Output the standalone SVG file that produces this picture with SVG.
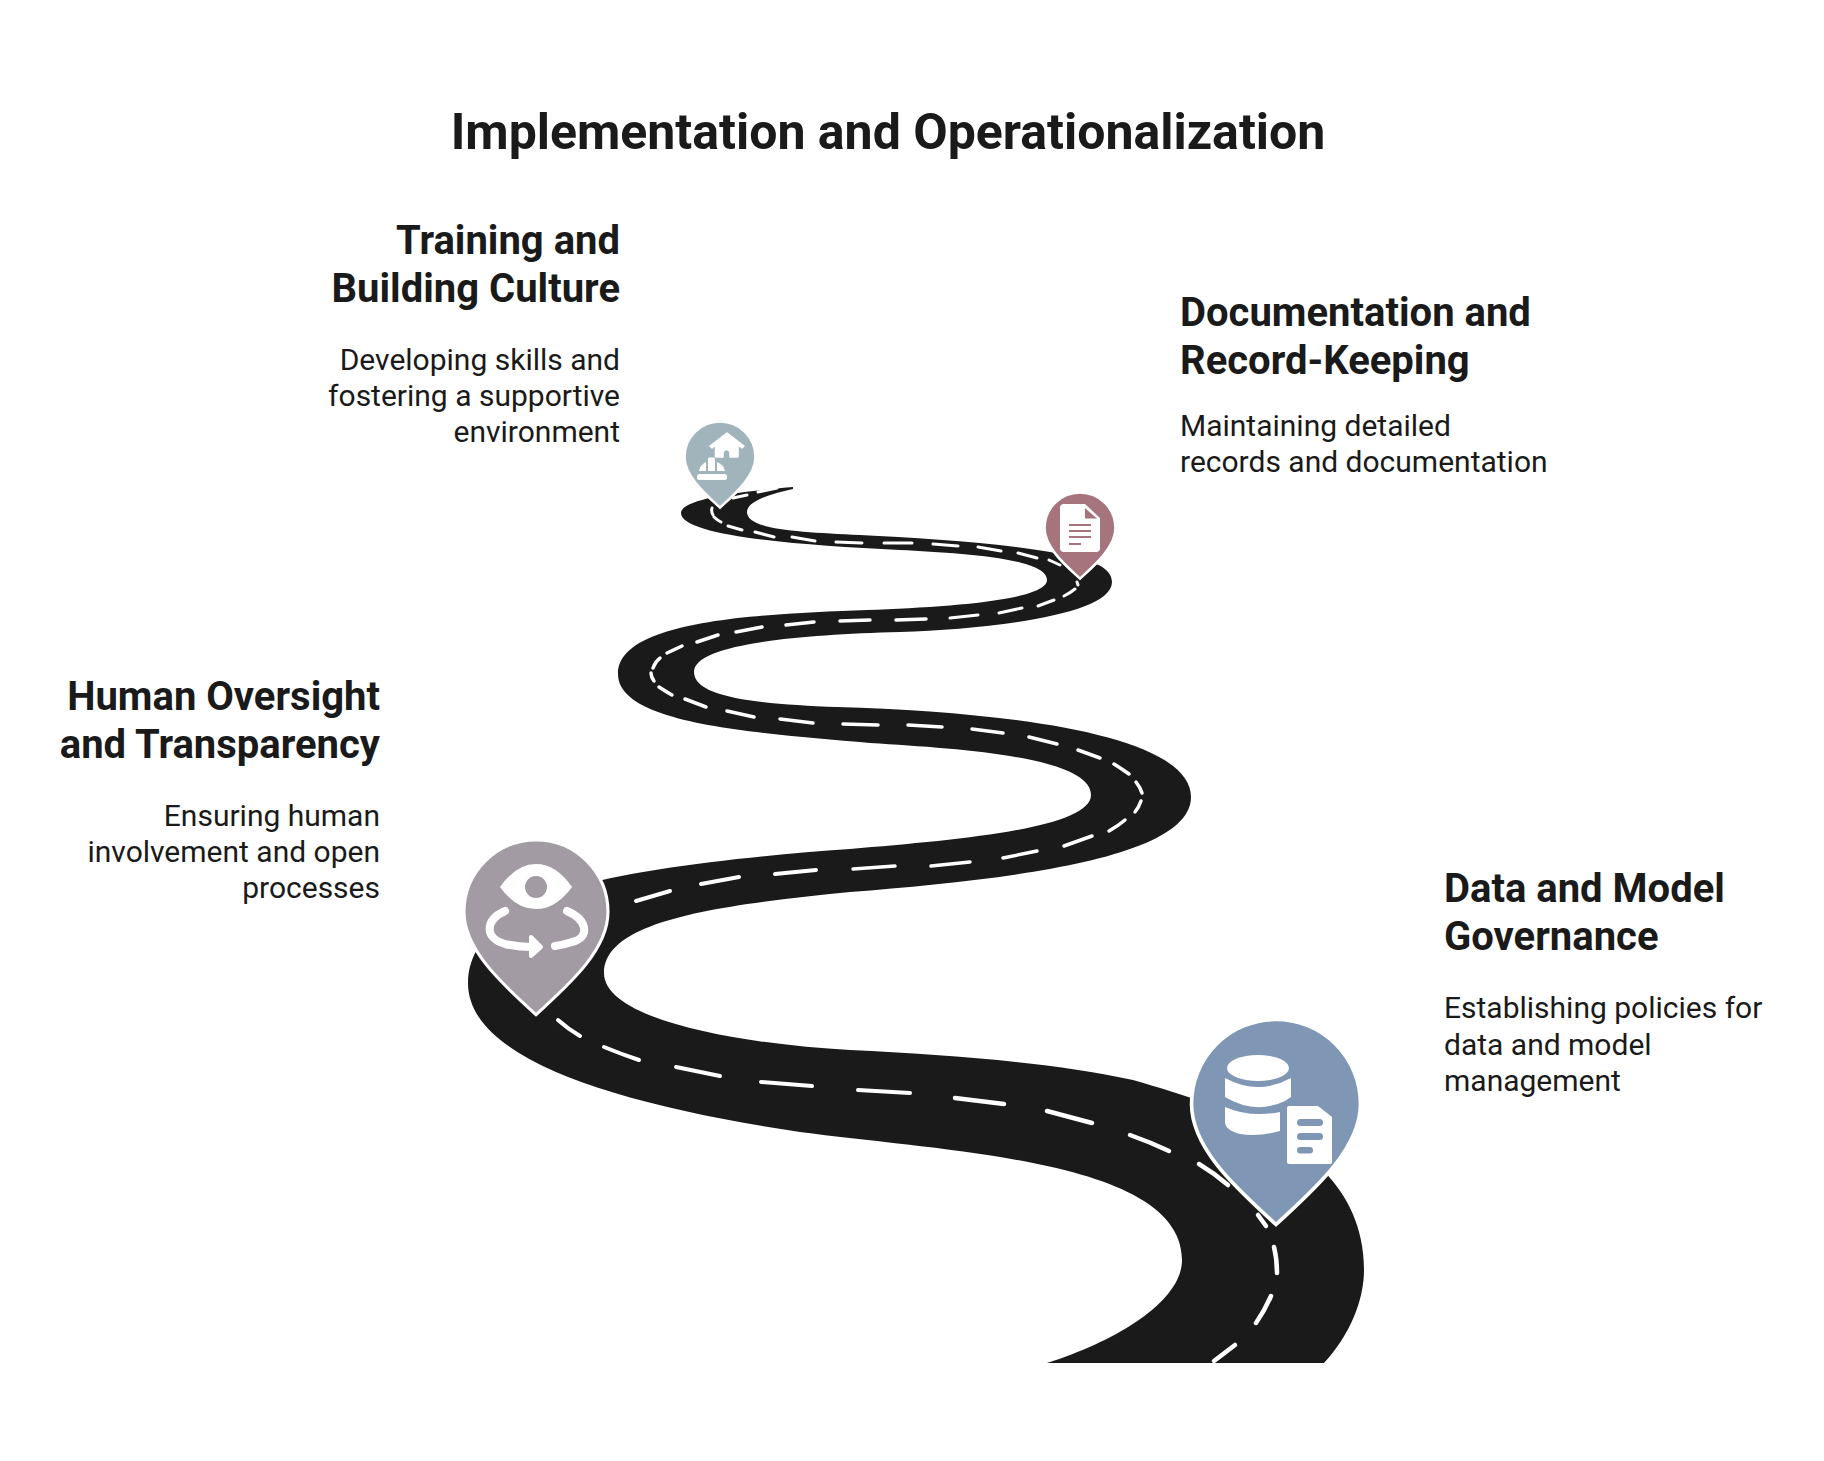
<svg xmlns="http://www.w3.org/2000/svg" width="1824" height="1461" viewBox="0 0 1824 1461">
<style>
text{font-family:Roboto,"Liberation Sans",sans-serif;fill:#1a1a1a}
.title{font-size:50px;font-weight:700;text-anchor:middle}
.h{font-size:40px;font-weight:700}
.b{font-size:30px;font-weight:400}
.r{text-anchor:end}
.d path{fill:none;stroke:#fff;stroke-linecap:round}
.i{fill:#fff}
</style>
<defs>
<path id="pin" stroke="#fff" d="M0 117C-31 88-82 46-82 0A82 82 0 1 1 82 0C82 46 31 88 0 117Z"/>
</defs>
<rect width="1824" height="1461" fill="#fff"/>
<text class="title" x="888" y="149">Implementation and Operationalization</text>
<g id="connectors">
<path id="road" fill="#1a1a1a" d="M793 487C760 490 681 497 681 513C681 535 790 545 900 550C960 553 1047 558 1047 580C1047 600 950 607 867 610C760 614 618 620 618 674C618 725 760 733 870 743C970 749 1091 758 1091 795C1091 828 960 840 850 849C750 856 640 868 570 888C510 905 468 940 468 983C468 1060 620 1105 800 1132C950 1152 1182 1160 1182 1260C1182 1300 1120 1340 1047 1363L1324 1363C1350 1335 1364 1300 1364 1270C1364 1225 1345 1195 1330 1178C1300 1135 1220 1105 1133 1080C1050 1062 950 1055 850 1050C740 1044 604 1020 604 973C604 920 720 905 850 892C1000 880 1191 860 1191 797C1191 735 1010 712 837 707C760 704 694 698 694 672C694 645 790 635 900 632C990 629 1112 615 1112 582C1112 565 1085 558 1050 552C1000 543 920 538 860 535C800 532 747 530 747 512C747 500 775 493 793 489Z"/>
<g class="d" stroke-width="3">
<path d="M758 492L777 488"/><path d="M733 498L747 495"/><path d="M712 508Q711 512 713 515"/><path d="M714 517Q717 520 721 522"/><path d="M728 526L742 530"/><path d="M755 532L774 537"/><path d="M792 537L815 541"/><path d="M836 542L862 543"/><path d="M884 543L912 543"/><path d="M933 544L958 546"/><path d="M978 547L1001 551"/><path d="M1018 553L1037 558"/><path d="M1049 560L1060 565"/><path d="M1077 582L1078 585"/><path d="M1064 596Q1070 593 1075 589"/><path d="M1038 606L1054 600"/><path d="M999 613L1022 608"/><path d="M950 618L978 615"/>
</g>
<g class="d" stroke-width="3.5">
<path d="M896 620L926 619"/><path d="M840 621L870 620"/><path d="M786 625L814 622"/><path d="M736 632L762 627"/><path d="M697 642L718 635"/><path d="M667 653L682 646"/><path d="M653 668Q655 662 660 658"/><path d="M651 673Q651 677 654 681"/><path d="M659 687Q665 691 672 695"/><path d="M685 699L706 707"/><path d="M727 711L754 717"/><path d="M780 719L813 723"/><path d="M843 724L878 725"/><path d="M908 725L942 727"/><path d="M972 729L1003 733"/><path d="M1029 737L1057 744"/><path d="M1078 750L1100 758"/><path d="M1114 764Q1122 769 1129 774"/><path d="M1136 782Q1140 787 1142 793"/><path d="M1141 801Q1139 807 1135 812"/><path d="M1125 820Q1118 826 1109 831"/><path d="M1092 836L1064 846"/><path d="M1037 851L1003 858"/><path d="M970 862L931 866"/><path d="M895 866L853 869"/>
</g>
<g class="d" stroke-width="4">
<path d="M816 870L775 874"/><path d="M739 877L701 884"/><path d="M670 891L636 901"/><path d="M558 1020Q568 1029 580 1036"/><path d="M604 1047Q621 1054 639 1060"/><path d="M676 1067L720 1076"/><path d="M761 1082L812 1086"/><path d="M858 1090L910 1093"/>
</g>
<g class="d" stroke-width="4.5">
<path d="M955 1098L1004 1104"/><path d="M1047 1111L1092 1123"/><path d="M1130 1135Q1150 1142 1169 1151"/><path d="M1199 1164Q1214 1173 1228 1185"/><path d="M1258 1215L1266 1226"/><path d="M1274 1247Q1277 1259 1277 1273"/><path d="M1271 1296Q1265 1310 1256 1323"/><path d="M1235 1345L1214 1361"/>
</g>
</g>
<g id="node-training">
<use href="#pin" transform="translate(720 457) scale(.433)" fill="#a1b3bb" stroke-width="6"/>
<path class="i" stroke="#fff" stroke-width="1.500" stroke-linejoin="round" d="M727 433L744 446L742 448L738 445V457H730V452Q726.500 447 723 452V457H715.500V445L712 448L710 446Z"/>
<path class="i" d="M699 471Q700 465 706 462V471ZM708 471V459Q708 457.500 709.500 457.500H713.500Q715 457.500 715 459V471ZM717 462Q724 465 725 471H717Z"/>
<rect class="i" x="697" y="474" width="30" height="6" rx="2.500"/>
<text class="h r" x="620" y="254">Training and</text>
<text class="h r" x="620" y="302">Building Culture</text>
<text class="b r" x="620" y="370">Developing skills and</text>
<text class="b r" x="620" y="406">fostering a supportive</text>
<text class="b r" x="620" y="442">environment</text>
</g>
<g id="node-documentation">
<use href="#pin" transform="translate(1080 528) scale(.433)" fill="#a5747c" stroke-width="6"/>
<path class="i" d="M1064 504H1085L1100 518V548Q1100 552 1096 552H1064Q1060 552 1060 548V508Q1060 504 1064 504Z"/>
<path fill="#a5747c" d="M1085 508L1097 518.500H1085Z"/>
<path fill="none" stroke="#a5747c" stroke-width="2" d="M1069 525H1091M1069 531H1091M1069 537H1091M1069 544H1081"/>
<text class="h" x="1180" y="326">Documentation and</text>
<text class="h" x="1180" y="374">Record-Keeping</text>
<text class="b" x="1180" y="436">Maintaining detailed</text>
<text class="b" x="1180" y="472">records and documentation</text>
</g>
<g id="node-oversight">
<use href="#pin" transform="translate(536 912) scale(.878)" fill="#a39ba3" stroke-width="3.500"/>
<path class="i" d="M500 887Q516 864 536 864Q556 864 572 887Q556 909 536 909Q516 909 500 887Z"/>
<circle cx="536" cy="887" r="11" fill="#a39ba3"/>
<g fill="none" stroke="#fff" stroke-width="8" stroke-linecap="round">
<path d="M505 911C485 920 484 938 505 944Q518 947 532 947"/>
<path d="M567 911C588 920 590 938 572 942Q563 945 555 946"/>
</g>
<path class="i" stroke="#fff" stroke-width="4" stroke-linejoin="round" d="M531 937L541 947L531 956Z"/>
<text class="h r" x="380" y="710">Human Oversight</text>
<text class="h r" x="380" y="758">and Transparency</text>
<text class="b r" x="380" y="826">Ensuring human</text>
<text class="b r" x="380" y="862">involvement and open</text>
<text class="b r" x="380" y="898">processes</text>
</g>
<g id="node-governance">
<use href="#pin" transform="translate(1276 1104) scale(1.03)" fill="#7f96b4" stroke-width="3.500"/>
<ellipse class="i" cx="1258" cy="1068" rx="31" ry="13"/>
<path class="i" d="M1225 1078Q1258 1096 1291 1078V1097L1285 1101Q1255 1115 1225 1097Z"/>
<path class="i" d="M1225 1107Q1250 1118 1280 1112V1131Q1258 1137 1240 1134Q1225 1130 1225 1122Z"/>
<path class="i" d="M1289 1106H1318L1332 1117V1162Q1332 1164 1330 1164H1289Q1287 1164 1287 1162V1108Q1287 1106 1289 1106Z"/>
<g fill="#7f96b4"><rect x="1297" y="1119" width="26" height="7" rx="3.500"/><rect x="1297" y="1133" width="26" height="7" rx="3.500"/><rect x="1297" y="1147" width="16" height="6.500" rx="3.250"/></g>
<text class="h" x="1444" y="902">Data and Model</text>
<text class="h" x="1444" y="950">Governance</text>
<text class="b" x="1444" y="1018">Establishing policies for</text>
<text class="b" x="1444" y="1055">data and model</text>
<text class="b" x="1444" y="1091">management</text>
</g>
</svg>
